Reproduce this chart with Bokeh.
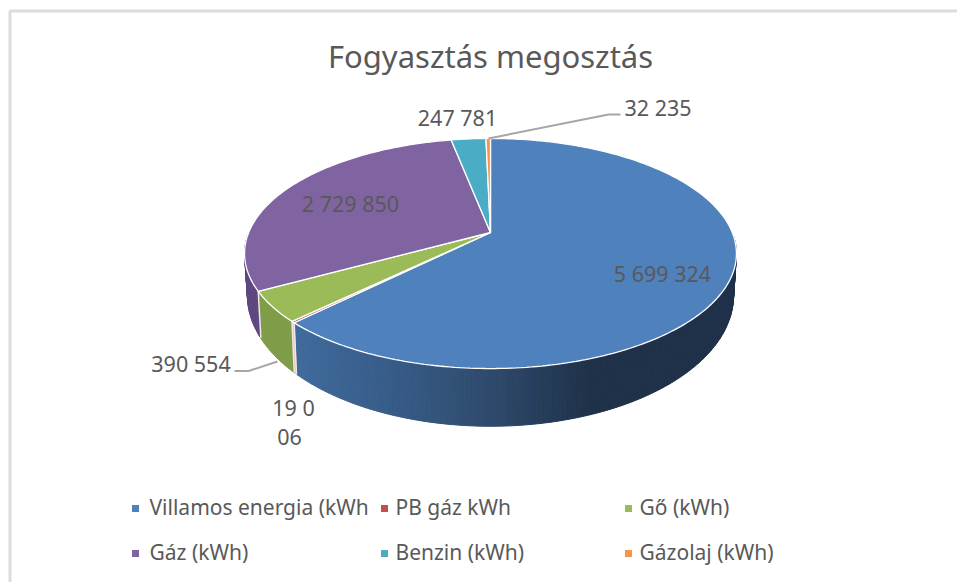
import math
from bokeh.plotting import figure
from bokeh.models import Range1d
from bokeh.core.properties import value
from bokeh.embed import file_html
from bokeh.resources import INLINE

TITLE = "Fogyasztás megosztás"
categories = ["Villamos energia (kWh", "PB gáz kWh", "Gő (kWh)", "Gáz (kWh)", "Benzin (kWh)", "Gázolaj (kWh)"]
values = [5699324, 19006, 390554, 2729850, 247781, 32235]
colors = ["#4f81bd", "#c0504d", "#9bbb59", "#8064a2", "#4bacc6", "#f79646"]
side_colors = [None, "#e8b8b6", "#7f9d48", "#5f4780", "#3a8ea6", "#d07a35"]
data_labels = ["5 699 324", "19 0\n06", "390 554", "2 729 850", "247 781", "32 235"]

FONT = "Noto Sans"
TEXT = "#595959"

CX, CY, A, B, K = 490.0, 232.0, 241.8, 111.2, 0.1826
A2, B2, CY2 = 239.0, 126.5, 271.0

# horizontal shading of the blue wall
SHADE_X = [296, 400, 490, 590, 760]
SHADE_C = ["#3f6a9c", "#365a85", "#2e4a6c", "#1f3149", "#1f3149"]


def top(theta):
    X, Y = math.sin(theta), -math.cos(theta)
    w = 1 - K * Y
    return CX + A * X / w, CY + B * Y / w


def bottom(theta):
    X, Y = math.sin(theta), -math.cos(theta)
    w = 1 - K * Y
    return CX + A2 * X / w, CY2 + B2 * Y / w


def shade(x):
    x = max(SHADE_X[0], min(SHADE_X[-1], x))
    for i in range(len(SHADE_X) - 1):
        if x <= SHADE_X[i + 1]:
            t = (x - SHADE_X[i]) / (SHADE_X[i + 1] - SHADE_X[i])
            a = [int(SHADE_C[i][j:j + 2], 16) for j in (1, 3, 5)]
            b = [int(SHADE_C[i + 1][j:j + 2], 16) for j in (1, 3, 5)]
            return "#%02x%02x%02x" % tuple(round(a[k] + (b[k] - a[k]) * t) for k in range(3))
    return SHADE_C[-1]


p = figure(width=957, height=582, output_backend="svg", toolbar_location=None,
           x_range=Range1d(0, 957), y_range=Range1d(582, 0), min_border=0)
p.axis.visible = False
p.grid.visible = False
p.outline_line_color = None
p.background_fill_color = "white"

# chart frame
p.line([9.5, 9.5, 957], [582, 10.5, 10.5], line_color="#dcdcdc", line_width=3)

total = sum(values)
edges = [0.0]
for v in values:
    edges.append(edges[-1] + v / total * 2 * math.pi)

# side wall, front half only
xs, ys, fc = [], [], []
lo, hi = math.radians(92), math.radians(268)
for i in range(len(values)):
    a0, a1 = max(edges[i], lo), min(edges[i + 1], hi)
    if a1 <= a0:
        continue
    n = max(1, int((a1 - a0) / math.radians(1.0)))
    for j in range(n):
        t0 = a0 + (a1 - a0) * j / n
        t1 = a0 + (a1 - a0) * (j + 1) / n
        x0, y0 = top(t0)
        x1, y1 = top(t1)
        x2, y2 = bottom(t1)
        x3, y3 = bottom(t0)
        xs.append([x0, x1, x2, x3])
        ys.append([y0, y1, y2, y3])
        fc.append(shade((x0 + x1) / 2) if i == 0 else side_colors[i])
p.patches(xs, ys, fill_color=fc, line_color=fc, line_width=1)

# white seams on the wall between slices
for e in edges[1:4]:
    x0, y0 = top(e)
    x1, y1 = bottom(e)
    p.line([x0, x1], [y0, y1], line_color="#f4e6e6", line_width=1.5)

# top faces
for i in range(len(values)):
    n = max(2, int((edges[i + 1] - edges[i]) / math.radians(1.0)))
    pts = [top(edges[i] + (edges[i + 1] - edges[i]) * j / n) for j in range(n + 1)]
    px = [CX] + [q[0] for q in pts]
    py = [CY] + [q[1] for q in pts]
    p.patch(px, py, fill_color=colors[i], line_color="white", line_width=1.3)

# leader lines
p.line([234, 248, 277], [370.5, 370.5, 361], line_color="#a6a6a6", line_width=2)
p.line([488, 608, 620], [138, 114, 114], line_color="#a6a6a6", line_width=2)

# data labels
label_x = [662, 293, 190.5, 350, 457, 657.5]
label_y = [272.5, 406.5, 362.5, 202.5, 116.5, 107]
SIZE = value("21.5px")
for t, lx, ly in zip(data_labels, label_x, label_y):
    for k, s in enumerate(t.split("\n")):
        xo = -4 if k == 1 else 0
        p.text([lx + xo], [ly + 30 * k], text=[s], text_align="center", text_baseline="middle",
               text_font=value(FONT), text_font_size=SIZE, text_color=TEXT)

# title
p.text([490], [55.5], text=[TITLE], text_align="center", text_baseline="middle",
       text_font=value(FONT), text_font_size=value("31px"), text_color=TEXT)

# legend
leg_x = [135, 384, 628, 135, 384, 628]
leg_y = [508, 508, 508, 553, 553, 553]
leg_tx = [149, 395, 639, 149, 395, 639]
p.scatter(leg_x, leg_y, marker="square", size=7, fill_color=colors, line_color=None)
p.text(leg_tx, [y - 1.5 for y in leg_y], text=categories, text_align="left", text_baseline="middle",
       text_font=value(FONT), text_font_size=value("21px"), text_color=TEXT)

open("out.html", "w").write(file_html(p, INLINE))
